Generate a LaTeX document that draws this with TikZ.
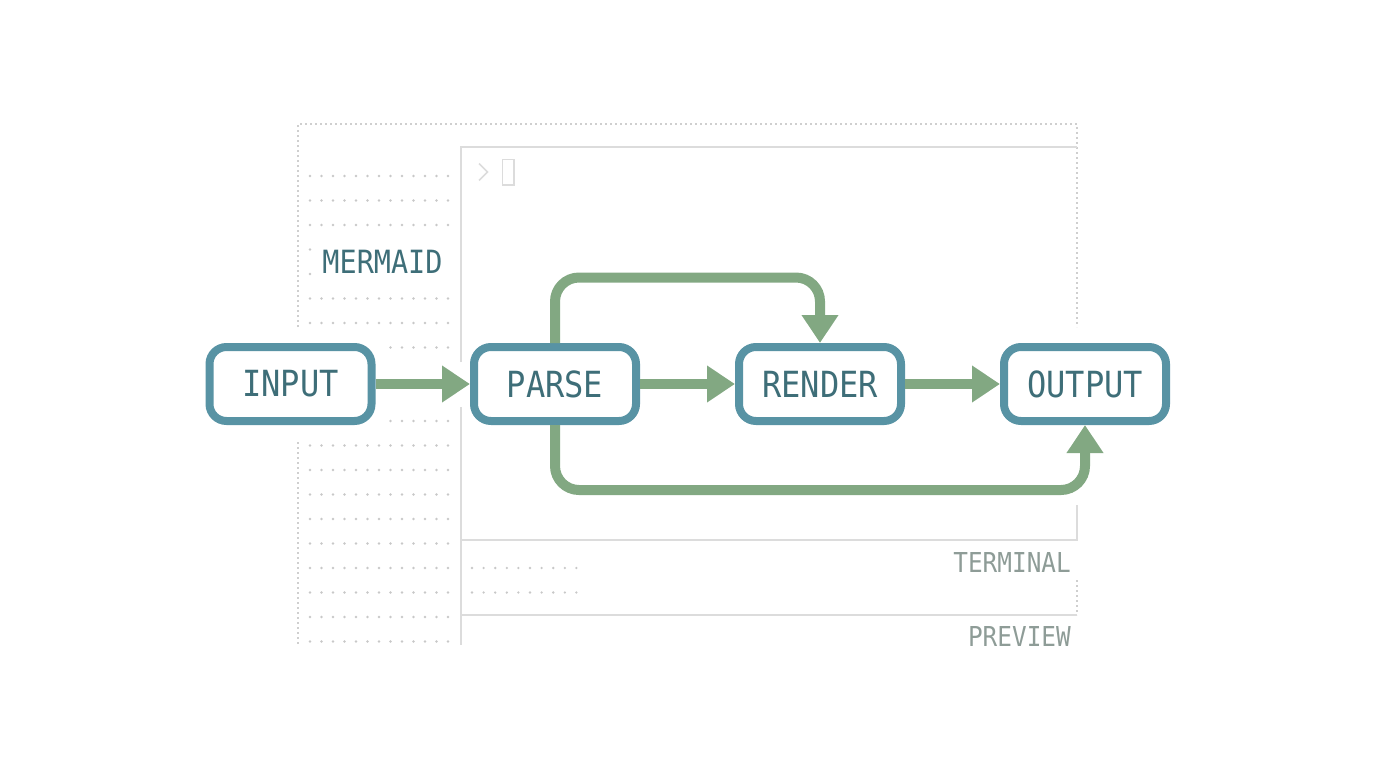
\documentclass[tikz,border=0pt]{standalone}
\usepackage{fontspec}
\usetikzlibrary{arrows.meta}
\newfontfamily\labelfont[FakeStretch=0.89]{DejaVu Sans Mono}
\definecolor{boxteal}{HTML}{5893A4}
\definecolor{labeltxt}{HTML}{3E6E78}
\definecolor{flowgreen}{HTML}{82A882}
\definecolor{framegray}{HTML}{DCDCDC}
\definecolor{dotframe}{HTML}{CFCFCF}
\definecolor{dotgray}{HTML}{C8C8C8}
\definecolor{panegray}{HTML}{8E9C97}
\begin{document}
\begin{tikzpicture}[x=1pt,y=-1pt,
  box/.style={draw=boxteal, line width=8pt, fill=white, rounded corners=17pt,
    minimum width=162pt, minimum height=74pt, inner sep=0pt, text=labeltxt,
    font=\labelfont\fontsize{36}{40}\selectfont},
  flow/.style={draw=flowgreen, line width=10pt, -{Triangle[length=28pt 0 0,width=35pt 0 0]}},
  solidframe/.style={draw=framegray, line width=2pt},
  dotline/.style={draw=dotframe, line width=1.2pt, dash pattern=on 2pt off 3pt},
  griddot/.style={fill=dotgray},
  panelabel/.style={text=panegray, inner sep=0pt, font=\labelfont\fontsize{27.4}{30}\selectfont},
  cursorline/.style={draw=framegray, line width=1.6pt}
]
\useasboundingbox (0,0) rectangle (1376,768);

% outer dotted frame
\draw[dotline] (298,327) -- (298,124) -- (1077,124) -- (1077,327);
\draw[dotline] (298,442) -- (298,645);
\draw[dotline] (1077,580) -- (1077,615);

% inner solid frame
\draw[solidframe] (461,362) -- (461,147) -- (1077,147);
\draw[solidframe] (461,407) -- (461,645);
\draw[solidframe] (461,540) -- (1077,540) -- (1077,505);
\draw[solidframe] (461,615) -- (1077,615);

% dot grid
\foreach \j in {0,1,2,5,6,11,12,13,14,15,16,17,18,19}
  \foreach \k in {0,...,12}
    \fill[griddot] ({310+11.5*\k},{176+24.5*\j}) circle[radius=1.3pt];
\foreach \j in {3,4}
  \fill[griddot] (310,{176+24.5*\j}) circle[radius=1.3pt];
\foreach \j in {7,10}
  \foreach \k in {7,...,12}
    \fill[griddot] ({310+11.5*\k},{176+24.5*\j}) circle[radius=1.3pt];
\foreach \j in {0,1}
  \foreach \k in {0,...,9}
    \fill[griddot] ({472+11.6*\k},{568+24.5*\j}) circle[radius=1.3pt];

% prompt and cursor
\draw[cursorline] (479,163.5) -- (487.5,172) -- (479,180.5);
\draw[cursorline] (502.5,159.5) rectangle (514,185);

% labels
\node[text=labeltxt, inner sep=0pt, font=\labelfont\fontsize{32}{36}\selectfont] (mermaid) at (382.5,261.5) {MERMAID};
\node[panelabel, anchor=east] (terminal) at (1071,563) {TERMINAL};
\node[panelabel, anchor=east] (preview) at (1071,637) {PREVIEW};

% nodes
\node[box] (input)  at (290.5,384) {INPUT};
\node[box] (parse)  at (555,384) {PARSE};
\node[box] (render) at (820,384) {RENDER};
\node[box] (output) at (1085,384) {OUTPUT};

\coordinate (topy) at (0,277.5);
\coordinate (boty) at (0,490);

% connectors
\draw[flow] (input.east) -- (parse.west);
\draw[flow] (parse.east) -- (render.west);
\draw[flow] (render.east) -- (output.west);
\draw[flow, rounded corners=24pt] (parse.north) -- (parse.north |- topy) -- (render.north |- topy) -- (render.north);
\draw[flow, rounded corners=24pt] (parse.south) -- (parse.south |- boty) -- (output.south |- boty) -- (output.south);
\end{tikzpicture}
\end{document}
